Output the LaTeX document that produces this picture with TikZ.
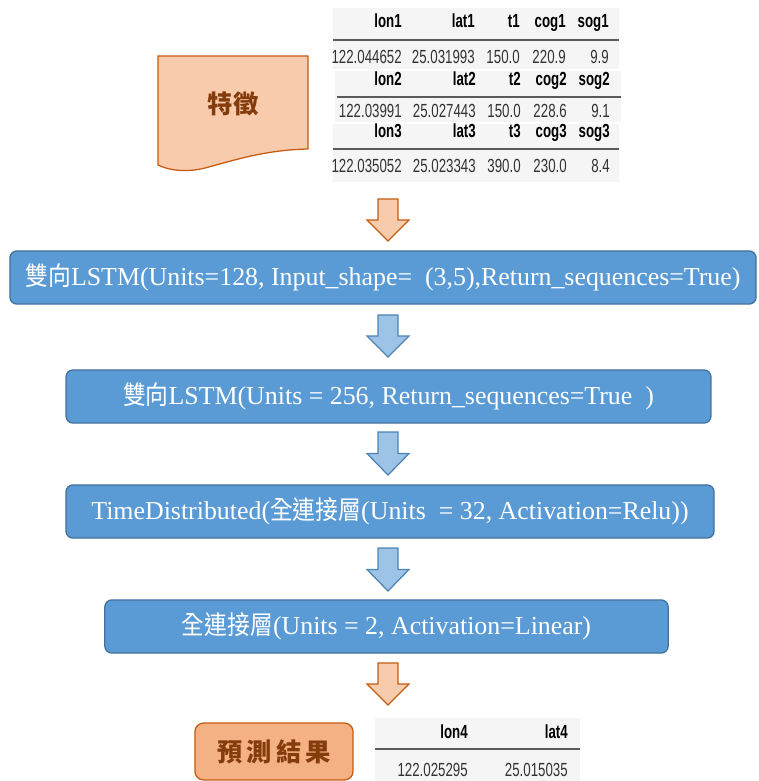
\documentclass[tikz,border=0pt]{standalone}
\usepackage{fontspec}
\setmainfont{Liberation Serif}
\newfontfamily\cjk[FakeStretch=0.88]{Noto Sans CJK TC}
\newfontfamily\cjkhead{Noto Sans CJK TC}
\newfontfamily\tabfont[FakeStretch=0.7]{Liberation Sans}
\usetikzlibrary{positioning}
\definecolor{boxblue}{HTML}{5B9BD5}
\definecolor{boxedge}{HTML}{41719C}
\definecolor{arrowblue}{HTML}{9DC3E6}
\definecolor{peach}{HTML}{F8CBAD}
\definecolor{salmon}{HTML}{F4B183}
\definecolor{rust}{HTML}{C55A11}
\definecolor{darkrust}{HTML}{843C0C}
\definecolor{tablegray}{HTML}{F5F5F5}
\definecolor{rulegray}{HTML}{5A5A5A}
\tikzset{layer/.style = {draw=boxedge,fill=boxblue,rounded corners=5pt,line width=0.9pt,
                         text=white,inner sep=0pt,font=\fontsize{18.4}{20}\selectfont},
         hcell/.style = {anchor=base east,inner sep=0pt,font=\tabfont\bfseries\fontsize{13.5}{14}\selectfont},
         vcell/.style = {anchor=base east,inner sep=0pt,text=black!80,font=\tabfont\fontsize{13.5}{14}\selectfont},
         bluearrow/.style = {draw=boxblue!85!black,fill=arrowblue,line width=0.9pt},
         orangearrow/.style = {draw=rust,fill=peach,line width=0.9pt}}
% block arrow: style, x, top, tip
\newcommand\flowarrow[4]{%
  \draw[#1] (#2-10,#3) -- (#2+10,#3) -- (#2+10,{(#3+#4)/2}) -- (#2+21,{(#3+#4)/2})
    -- (#2,#4) -- (#2-21,{(#3+#4)/2}) -- (#2-10,{(#3+#4)/2}) -- cycle;}

\begin{document}
\begin{tikzpicture}[x=0.025cm,y=-0.025cm]
            \useasboundingbox (0,0) rectangle (758,781);
            % input features
            \draw[draw=rust,fill=peach,line width=0.9pt] (158,56) -- (308,56) -- (308,149)
                .. controls (265,150) and (235,160) .. (205,168)
                .. controls (185,173) and (168,170) .. (158,165) -- cycle;
            \node[text=darkrust,font=\cjkhead\bfseries\fontsize{18}{20}\selectfont] (feat) at (233,104) {特徵};
            \fill[tablegray] (333,8) rectangle (619,69);
            \fill[tablegray] (335,71) rectangle (621,122);
            \fill[tablegray] (333,124) rectangle (619,182);
            \draw[rulegray,line width=1.4pt] (333,40) -- (619,40);
            \draw[rulegray,line width=1.4pt] (337,97) -- (621,97);
            \draw[rulegray,line width=1.4pt] (333,149) -- (619,149);
            \foreach \xr/\hd/\val [count=\i] in {402/lon1/122.044652,475/lat1/25.031993,520/t1/150.0,566/cog1/220.9,609/sog1/9.9}{
                \node[hcell] (ha\i) at (\xr,28) {\hd};
                \node[vcell] (va\i) at (\xr,64) {\val};}
            \foreach \xr/\hd/\val [count=\i] in {402/lon2/122.03991,476/lat2/25.027443,521/t2/150.0,567/cog2/228.6,610/sog2/9.1}{
                \node[hcell] (hb\i) at (\xr,86) {\hd};
                \node[vcell] (vb\i) at (\xr,118) {\val};}
            \foreach \xr/\hd/\val [count=\i] in {402/lon3/122.035052,476/lat3/25.023343,521/t3/390.0,567/cog3/230.0,610/sog3/8.4}{
                \node[hcell] (hc\i) at (\xr,138) {\hd};
                \node[vcell] (vc\i) at (\xr,172) {\val};}
            % layers
            \flowarrow{orangearrow}{388}{199}{241}
            \node[layer,minimum width=18.65cm,minimum height=1.33cm] (lstm1) at (383,277.5)
                {{\cjk 雙向}LSTM(Units=128, Input\_shape= \ (3,5),Return\_sequences=True)};
            \flowarrow{bluearrow}{388}{315}{357}
            \node[layer,minimum width=16.12cm,minimum height=1.33cm] (lstm2) at (388.5,396.5)
                {{\cjk 雙向}LSTM(Units = 256, Return\_sequences=True \ )};
            \flowarrow{bluearrow}{388}{432}{475}
            \node[layer,minimum width=16.2cm,minimum height=1.33cm] (dist) at (390,511.5)
                {TimeDistributed({\cjk 全連接層}(Units \ = 32, Activation=Relu))};
            \flowarrow{bluearrow}{388}{548}{591}
            \node[layer,minimum width=14.08cm,minimum height=1.33cm] (dense) at (386.5,626.5)
                {{\cjk 全連接層}(Units = 2, Activation=Linear)};
            \flowarrow{orangearrow}{388}{663}{705}
            % result
            \node[draw=rust,fill=salmon,rounded corners=6pt,line width=0.9pt,minimum width=3.95cm,
                  minimum height=1.42cm,text=darkrust,font=\cjkhead\bfseries\fontsize{18}{20}\selectfont] (pred) at (274,751.5)
                {預\hspace{3pt}測\hspace{3pt}結\hspace{3pt}果};
            \fill[tablegray] (375,718) rectangle (580,781);
            \draw[rulegray,line width=1.4pt] (375,749) -- (580,749);
            \foreach \xr/\hd/\val [count=\i] in {468/lon4/122.025295,568/lat4/25.015035}{
                \node[hcell] (hd\i) at (\xr,738) {\hd};
                \node[vcell] (vd\i) at (\xr,776) {\val};}
        \end{tikzpicture}
\end{document}
